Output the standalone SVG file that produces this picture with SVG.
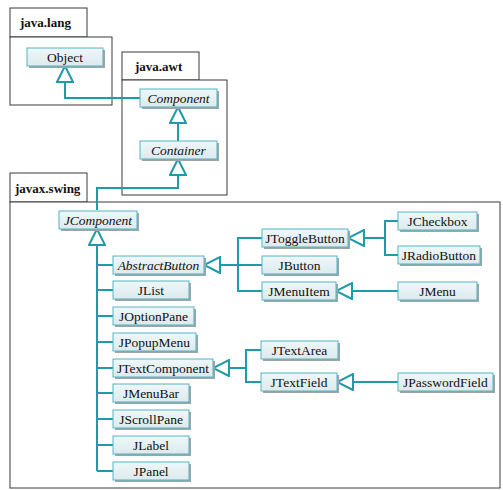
<svg xmlns="http://www.w3.org/2000/svg" width="503" height="490" viewBox="0 0 503 490" font-family="Liberation Serif, DejaVu Serif, serif">
<defs>
<linearGradient id="bg" x1="0" y1="0" x2="0" y2="1">
<stop offset="0" stop-color="#eef8fa"/>
<stop offset="1" stop-color="#dde9ec"/>
</linearGradient>
<marker id="tri" viewBox="-1 -1 18 18" refX="16" refY="8" markerWidth="18" markerHeight="18" markerUnits="userSpaceOnUse" orient="auto">
<path d="M0,0 L16,8 L0,16 Z" fill="#fff" stroke="#1e9aab" stroke-width="2" stroke-linejoin="miter"/>
</marker>
</defs>
<style>
.pkg{fill:#fff;stroke:#3a3a3a;stroke-width:1}
.pt{font-weight:bold;font-size:13px;fill:#111}
.sh{fill:#9aa6a8}
.bx{fill:url(#bg);stroke:#55b3c3;stroke-width:1}
.t{font-size:13.5px;fill:#111;text-anchor:middle}
.i{font-style:italic}
.c{fill:none;stroke:#1e9aab;stroke-width:2}
.a{marker-end:url(#tri)}
</style>
<rect width="503" height="490" fill="#fff"/>
<g id="pkg-java-lang">
<rect class="pkg" x="10" y="8" width="77" height="29"/>
<rect class="pkg" x="10" y="37" width="102" height="68"/>
<text class="pt" x="20" y="27">java.lang</text>
</g>
<g id="pkg-java-awt">
<rect class="pkg" x="122" y="52" width="77" height="28"/>
<rect class="pkg" x="122" y="80" width="105" height="115"/>
<text class="pt" x="135" y="71">java.awt</text>
</g>
<g id="pkg-javax-swing">
<rect class="pkg" x="10" y="173" width="77" height="29"/>
<rect class="pkg" x="10" y="202" width="490" height="286"/>
<text class="pt" x="15" y="193">javax.swing</text>
</g>
<g id="connectors">
<path class="c a" d="M140,98 H65 V66"/>
<path class="c a" d="M178,141 V107"/>
<path class="c a" d="M97,210 V188 H178 V159"/>
<path class="c a" d="M97,471 V229"/>
<path class="c" d="M97,265 H113 M97,290 H113 M97,316 H113 M97,342 H113 M97,368 H113 M97,393 H113 M97,419 H113 M97,445 H113 M97,471 H113"/>
<path class="c" d="M262,238 H238 V291 H262 M238,265 H262"/>
<path class="c a" d="M238,265 H204"/>
<path class="c" d="M398,221 H385 V255 H398"/>
<path class="c a" d="M385,238 H348"/>
<path class="c a" d="M398,291 H336"/>
<path class="c" d="M261,350 H246 V382 H261"/>
<path class="c a" d="M246,368 H213"/>
<path class="c a" d="M398,382 H337"/>
</g>
<g id="Object"><rect class="sh" x="29" y="50" width="76" height="18"/><rect class="bx" x="27" y="48" width="76" height="18"/><text class="t" x="65" y="62">Object</text></g>
<g id="Component"><rect class="sh" x="142" y="91" width="77" height="18"/><rect class="bx" x="140" y="89" width="77" height="18"/><text class="t i" x="178.5" y="103">Component</text></g>
<g id="Container"><rect class="sh" x="142" y="143" width="77" height="18"/><rect class="bx" x="140" y="141" width="77" height="18"/><text class="t i" x="178.5" y="155">Container</text></g>
<g id="JComponent"><rect class="sh" x="61" y="213" width="78" height="18"/><rect class="bx" x="59" y="211" width="78" height="18"/><text class="t i" x="98" y="225">JComponent</text></g>
<g id="AbstractButton"><rect class="sh" x="115" y="258" width="91" height="18"/><rect class="bx" x="113" y="256" width="91" height="18"/><text class="t i" x="158.5" y="270">AbstractButton</text></g>
<g id="JList"><rect class="sh" x="115" y="283" width="76" height="18"/><rect class="bx" x="113" y="281" width="76" height="18"/><text class="t" x="151" y="295">JList</text></g>
<g id="JOptionPane"><rect class="sh" x="115" y="309" width="81" height="18"/><rect class="bx" x="113" y="307" width="81" height="18"/><text class="t" x="153.5" y="321">JOptionPane</text></g>
<g id="JPopupMenu"><rect class="sh" x="115" y="335" width="83" height="18"/><rect class="bx" x="113" y="333" width="83" height="18"/><text class="t" x="154.5" y="347">JPopupMenu</text></g>
<g id="JTextComponent"><rect class="sh" x="115" y="361" width="100" height="18"/><rect class="bx" x="113" y="359" width="100" height="18"/><text class="t" x="163" y="373">JTextComponent</text></g>
<g id="JMenuBar"><rect class="sh" x="115" y="386" width="76" height="18"/><rect class="bx" x="113" y="384" width="76" height="18"/><text class="t" x="151" y="398">JMenuBar</text></g>
<g id="JScrollPane"><rect class="sh" x="115" y="412" width="76" height="18"/><rect class="bx" x="113" y="410" width="76" height="18"/><text class="t" x="151" y="424">JScrollPane</text></g>
<g id="JLabel"><rect class="sh" x="115" y="438" width="76" height="18"/><rect class="bx" x="113" y="436" width="76" height="18"/><text class="t" x="151" y="450">JLabel</text></g>
<g id="JPanel"><rect class="sh" x="115" y="464" width="76" height="18"/><rect class="bx" x="113" y="462" width="76" height="18"/><text class="t" x="151" y="476">JPanel</text></g>
<g id="JToggleButton"><rect class="sh" x="264" y="231" width="86" height="18"/><rect class="bx" x="262" y="229" width="86" height="18"/><text class="t" x="305" y="243">JToggleButton</text></g>
<g id="JButton"><rect class="sh" x="264" y="258" width="75" height="18"/><rect class="bx" x="262" y="256" width="75" height="18"/><text class="t" x="299.5" y="270">JButton</text></g>
<g id="JMenuItem"><rect class="sh" x="264" y="284" width="74" height="18"/><rect class="bx" x="262" y="282" width="74" height="18"/><text class="t" x="299" y="296">JMenuItem</text></g>
<g id="JCheckbox"><rect class="sh" x="400" y="214" width="79" height="18"/><rect class="bx" x="398" y="212" width="79" height="18"/><text class="t" x="437.5" y="226">JCheckbox</text></g>
<g id="JRadioButton"><rect class="sh" x="400" y="248" width="82" height="18"/><rect class="bx" x="398" y="246" width="82" height="18"/><text class="t" x="439" y="260">JRadioButton</text></g>
<g id="JMenu"><rect class="sh" x="400" y="284" width="79" height="18"/><rect class="bx" x="398" y="282" width="79" height="18"/><text class="t" x="437.5" y="296">JMenu</text></g>
<g id="JTextArea"><rect class="sh" x="263" y="343" width="77" height="18"/><rect class="bx" x="261" y="341" width="77" height="18"/><text class="t" x="299.5" y="355">JTextArea</text></g>
<g id="JTextField"><rect class="sh" x="263" y="375" width="76" height="18"/><rect class="bx" x="261" y="373" width="76" height="18"/><text class="t" x="299" y="387">JTextField</text></g>
<g id="JPasswordField"><rect class="sh" x="400" y="375" width="95" height="18"/><rect class="bx" x="398" y="373" width="95" height="18"/><text class="t" x="445.5" y="387">JPasswordField</text></g>
</svg>
